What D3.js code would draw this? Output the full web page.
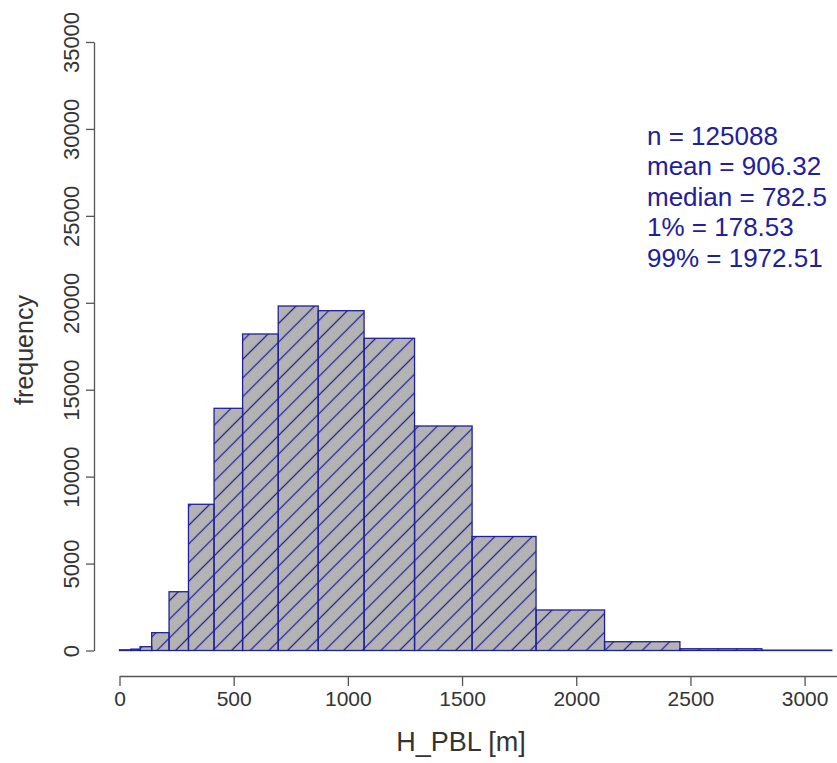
<!DOCTYPE html>
<html>
<head>
<meta charset="utf-8">
<script src="https://cdn.jsdelivr.net/npm/d3@7"></script>
<style>
  html, body { margin: 0; padding: 0; background: #fff; }
  svg { display: block; }
  text { font-family: "Liberation Sans", Arial, Helvetica, sans-serif; }
</style>
</head>
<body>
<div id="chart"></div>
<script>
// ---- data ----
const binBreaks = [0, 50, 90, 141, 217, 302, 414, 539, 695, 870, 1071, 1292, 1544, 1824, 2124, 2454, 2813, 3119];
const binCounts = [40, 80, 220, 1025, 3380, 8410, 13930, 18205, 19815, 19545, 17957, 12913, 6557, 2330, 506, 100, 20];
const xTicks = [0, 500, 1000, 1500, 2000, 2500, 3000];
const yTicks = [0, 5000, 10000, 15000, 20000, 25000, 30000, 35000];
const statLines = ["n = 125088", "mean = 906.32", "median = 782.5", "1% = 178.53", "99% = 1972.51"];
const xLabel = "H_PBL [m]";
const yLabel = "frequency";

// ---- layout ----
const W = 837, H = 763;
const blue = "#20209c";
const axisCol = "#555555";
const textCol = "#333333";

const svg = d3.select("#chart").append("svg")
  .attr("width", W).attr("height", H);

// the x range continues past the right edge of the picture (as in the reference crop)
const x = d3.scaleLinear().domain([0, 3500]).range([119.5, 918.8]);
const y = d3.scaleLinear().domain([0, 35000]).range([650.5, 42]);

// hatch pattern (45 degree lines aligned to the whole plot)
const defs = svg.append("defs");
const pat = defs.append("pattern")
  .attr("id", "hatch")
  .attr("patternUnits", "userSpaceOnUse")
  .attr("width", 13.2).attr("height", 13.2)
  .attr("patternTransform", "rotate(45)");
pat.append("line")
  .attr("x1", 3.3).attr("y1", 0).attr("x2", 3.3).attr("y2", 13.2)
  .attr("stroke", blue).attr("stroke-width", 1.25);

const bins = binCounts.map((c, i) => ({ x0: binBreaks[i], x1: binBreaks[i + 1], n: c }));

const bars = svg.append("g");
bars.selectAll("rect.fill").data(bins).join("rect")
  .attr("class", "fill")
  .attr("x", d => x(d.x0)).attr("width", d => x(d.x1) - x(d.x0))
  .attr("y", d => y(d.n)).attr("height", d => y(0) - y(d.n))
  .attr("fill", "#b3b3b3");
bars.selectAll("rect.hatch").data(bins).join("rect")
  .attr("class", "hatch")
  .attr("x", d => x(d.x0)).attr("width", d => x(d.x1) - x(d.x0))
  .attr("y", d => y(d.n)).attr("height", d => y(0) - y(d.n))
  .attr("fill", "url(#hatch)")
  .attr("stroke", blue).attr("stroke-width", 1.3);

// x axis (R style, offset below the plot)
const xAxis = svg.append("g")
  .attr("transform", "translate(0,676)")
  .call(d3.axisBottom(x).tickValues(xTicks).tickSize(10).tickSizeOuter(0).tickPadding(5)
    .tickFormat(d3.format("d")));
xAxis.select(".domain").attr("stroke", axisCol).attr("stroke-width", 1.3);
xAxis.selectAll(".tick line").attr("stroke", axisCol).attr("stroke-width", 1.3);
xAxis.selectAll(".tick text")
  .attr("fill", textCol).style("font-size", "21px")
  .style("font-family", "'Liberation Sans', Arial, sans-serif");

// y axis
const yAxis = svg.append("g")
  .attr("transform", "translate(94,0)")
  .call(d3.axisLeft(y).tickValues(yTicks).tickSize(8).tickSizeOuter(0).tickPadding(0)
    .tickFormat(d3.format("d")));
yAxis.select(".domain").attr("stroke", axisCol).attr("stroke-width", 1.3);
yAxis.selectAll(".tick line").attr("stroke", axisCol).attr("stroke-width", 1.3);
yAxis.selectAll(".tick text")
  .attr("fill", textCol).style("font-size", "22px")
  .style("font-family", "'Liberation Sans', Arial, sans-serif")
  .attr("x", null).attr("dy", null)
  .attr("text-anchor", "middle")
  .attr("transform", "translate(-15,0) rotate(-90)");

// axis titles
svg.append("text")
  .attr("x", 461).attr("y", 751)
  .attr("text-anchor", "middle")
  .attr("fill", textCol).style("font-size", "27px")
  .text(xLabel);
svg.append("text")
  .attr("transform", "translate(33,350) rotate(-90)")
  .attr("text-anchor", "middle")
  .attr("fill", textCol).style("font-size", "25px")
  .text(yLabel);

// statistics block
svg.append("g").selectAll("text").data(statLines).join("text")
  .attr("x", 647).attr("y", (d, i) => 144.5 + i * 30.5)
  .attr("fill", blue).style("font-size", "26px")
  .text(d => d);
</script>
</body>
</html>
